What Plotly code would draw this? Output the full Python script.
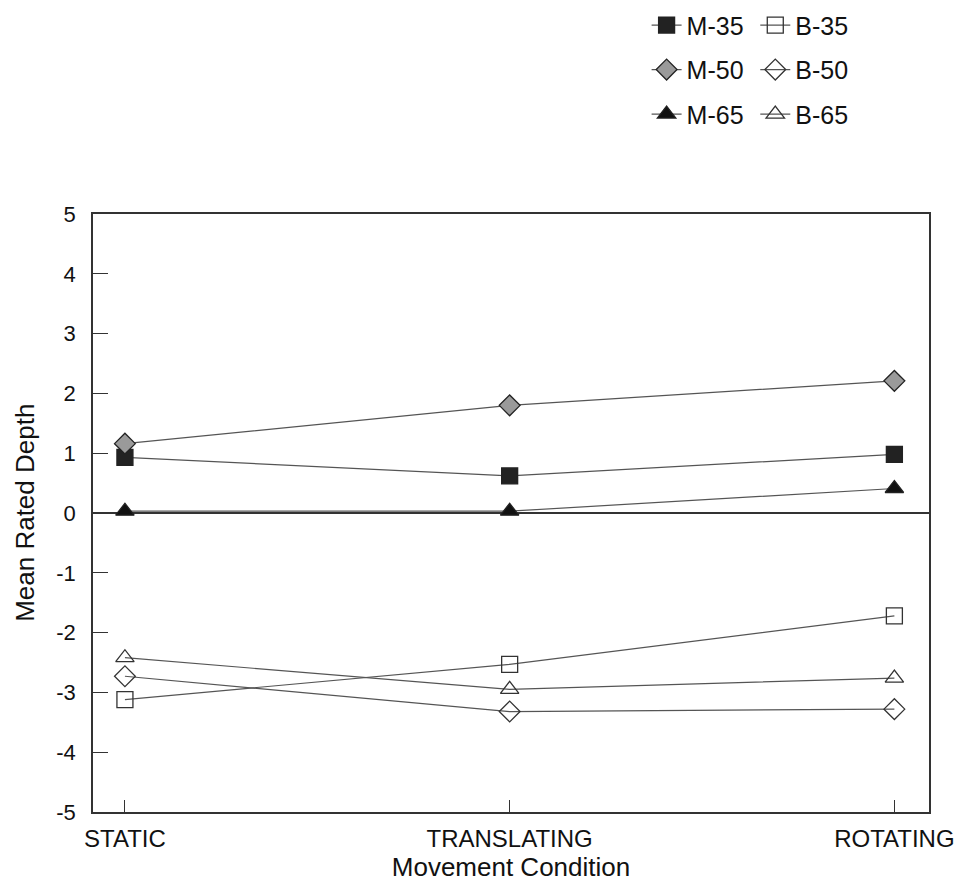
import plotly.graph_objects as go

categories = ["STATIC", "TRANSLATING", "ROTATING"]
series_names = ["M-35", "M-50", "M-65", "B-35", "B-50", "B-65"]
m35 = [0.93, 0.62, 0.98]
m50 = [1.16, 1.80, 2.21]
m65 = [0.03, 0.03, 0.41]
b35 = [-3.12, -2.53, -1.72]
b50 = [-2.73, -3.32, -3.28]
b65 = [-2.42, -2.95, -2.76]
y_ticks = [5, 4, 3, 2, 1, 0, -1, -2, -3, -4, -5]
y_tick_text = ["5", "4", "3", "2", "1", "0", "-1", "-2", "-3", "-4", "-5"]

values = [m35, m50, m65, b35, b50, b65]
symbols = ["square", "diamond", "triangle-up", "square-open", "diamond-open", "triangle-up-open"]
fills = ["#222222", "#9a9a9a", "#111111", "#333333", "#333333", "#333333"]
legends = ["legend", "legend", "legend", "legend2", "legend2", "legend2"]

FONT = "Liberation Sans, Arial, sans-serif"
fig = go.Figure()
for name, vals, sym, fc, lg in zip(series_names, values, symbols, fills, legends):
    fig.add_trace(go.Scatter(
        x=list(range(len(categories))), y=vals, name=name, mode="lines+markers",
        line=dict(color="#555555", width=1.2),
        marker=dict(symbol=sym, size=16, color=fc,
                    line=dict(color="#222222", width=1.3)),
        legend=lg, legendgroup=name,
    ))

leg_common = dict(font=dict(family=FONT, size=25, color="#111"), bgcolor="rgba(0,0,0,0)",
                  borderwidth=0, tracegroupgap=9, xanchor="left", yanchor="top",
                  itemwidth=30)
fig.update_layout(
    width=961, height=882,
    margin=dict(l=93, r=32, t=214, b=70, autoexpand=False),
    paper_bgcolor="white", plot_bgcolor="white",
    font=dict(family=FONT, size=22, color="#111"),
    legend=dict(x=0.6622, y=1.354, **leg_common),
    legend2=dict(x=0.7922, y=1.354, **leg_common),
    xaxis=dict(
        range=[-0.083, 2.09], tickmode="array", tickvals=list(range(len(categories))),
        ticktext=categories, ticks="inside", ticklen=12, tickcolor="#333", tickwidth=1.2,
        showline=True, linecolor="#333", linewidth=1.5, mirror=True, showgrid=False,
        zeroline=False, tickfont=dict(size=24), ticklabelstandoff=4, automargin=False,
        title=dict(text="Movement Condition", font=dict(size=26), standoff=2),
    ),
    yaxis=dict(
        range=[-5, 5], tickmode="array", tickvals=y_ticks, ticktext=y_tick_text,
        ticks="inside", ticklen=15, tickcolor="#333", tickwidth=1.2,
        showline=True, linecolor="#333", linewidth=1.5, mirror=True, showgrid=False,
        zeroline=True, zerolinecolor="#333", zerolinewidth=1.5, automargin=False,
        tickfont=dict(size=22), ticklabelstandoff=11,
    ),
    annotations=[dict(text="Mean Rated Depth", textangle=-90, xref="paper", yref="paper",
                      x=-0.0815, y=0.5, xanchor="center", yanchor="middle", showarrow=False,
                      font=dict(size=26))],
)
fig.write_html("out.html", config={"displayModeBar": False},
               post_script="document.body.style.margin='0';")
